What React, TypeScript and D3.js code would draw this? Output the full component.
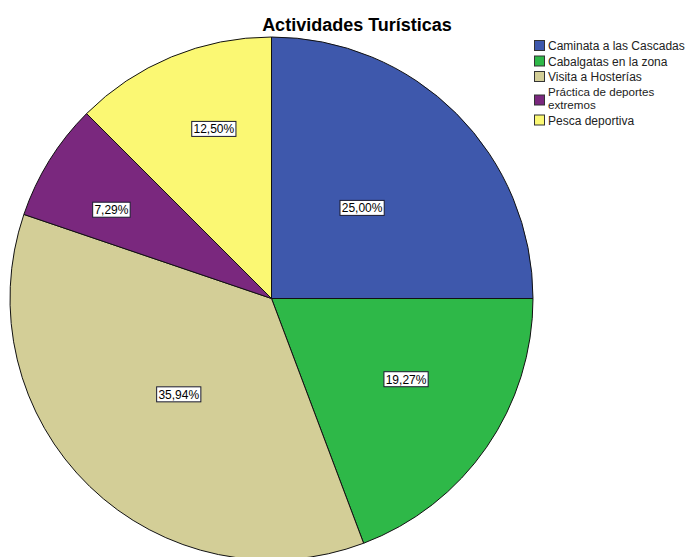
import React from "react";
import * as d3 from "d3";

const categories = [
  "Caminata a las Cascadas",
  "Cabalgatas en la zona",
  "Visita a Hosterías",
  "Práctica de deportes extremos",
  "Pesca deportiva",
];
const percentages = [25.0, 19.27, 35.94, 7.29, 12.5];
const colors = ["#3E58AC", "#2EB848", "#D3CE97", "#7A287E", "#FBF873"];
const legendLines = [
  ["Caminata a las Cascadas"],
  ["Cabalgatas en la zona"],
  ["Visita a Hosterías"],
  ["Práctica de deportes", "extremos"],
  ["Pesca deportiva"],
];

const W = 689;
const H = 557;
const FONT = "Arial, 'Liberation Sans', sans-serif";

export default function App() {
  const cx = 271.5;
  const cy = 298.5;
  const r = 261.5;

  const pie = d3
    .pie<number>()
    .sort(null)
    .startAngle(0)
    .endAngle(2 * Math.PI)
    .value((d) => d);
  const arcs = pie(percentages);
  const arcGen = d3.arc<d3.PieArcDatum<number>>().innerRadius(0).outerRadius(r);

  const fmt = (v: number) => v.toFixed(2).replace(".", ",") + "%";
  // smaller slices push their label further out
  const labelFrac = (share: number) =>
    share > 0.3 ? 0.51 : share > 0.22 ? 0.49 : share > 0.15 ? 0.6 : share > 0.1 ? 0.685 : 0.7;
  // labels sit slightly toward the larger neighbouring slice
  const labelShift = (share: number) => (share < 0.1 ? -0.05 : share < 0.15 ? 0.065 : share < 0.22 ? -0.065 : 0);

  // legend vertical placement
  const legendX = 534;
  const lineGap = 13;
  let ly = 40;
  const legendRows = legendLines.map((lines, i) => {
    const y = ly;
    ly += lines.length > 1 ? 28 : 15.5;
    return { lines, y, i };
  });

  return (
    <svg
      width={W}
      height={H}
      style={{ position: "fixed", left: 0, top: 0, background: "#fff" }}
      fontFamily={FONT}
    >
      <rect x={0} y={0} width={W} height={H} fill="#fff" />
      <text
        x={357}
        y={31}
        textAnchor="middle"
        fontSize={18}
        fontWeight="bold"
        fill="#000"
      >
        Actividades Turísticas
      </text>
      <g transform={`translate(${cx},${cy})`}>
        {arcs.map((a, i) => (
          <path
            key={categories[i]}
            d={arcGen(a) || ""}
            fill={colors[i]}
            stroke="#111"
            strokeWidth={1}
          />
        ))}
        {arcs.map((a, i) => {
          const share = percentages[i] / 100;
          const mid = (a.startAngle + a.endAngle) / 2 + labelShift(share);
          const lr = r * labelFrac(share);
          const x = Math.sin(mid) * lr;
          const y = -Math.cos(mid) * lr;
          const label = fmt(percentages[i]);
          const w = label.length * 6.7 + 4;
          return (
            <g key={"l" + i} transform={`translate(${x},${y})`}>
              <rect
                x={-w / 2}
                y={-7.5}
                width={w}
                height={15}
                fill="#fff"
                stroke="#1a1a2e"
                strokeWidth={1}
              />
              <text
                x={0}
                y={4.3}
                textAnchor="middle"
                fontSize={12}
                fill="#000"
              >
                {label}
              </text>
            </g>
          );
        })}
      </g>
      <g>
        {legendRows.map(({ lines, y, i }) => {
          const sy = lines.length > 1 ? y + 8 : y;
          return (
            <g key={"lg" + i}>
              <rect
                x={legendX + 0.5}
                y={sy + 0.5}
                width={10}
                height={10}
                fill={colors[i]}
                stroke="#333"
                strokeWidth={1}
              />
              {lines.map((t, j) => (
                <text
                  key={j}
                  x={legendX + 14}
                  y={y + (lines.length > 1 ? 9.5 : 10) + j * lineGap}
                  fontSize={lines.length > 1 ? 11.6 : 12}
                  fill="#222"
                >
                  {t}
                </text>
              ))}
            </g>
          );
        })}
      </g>
    </svg>
  );
}
